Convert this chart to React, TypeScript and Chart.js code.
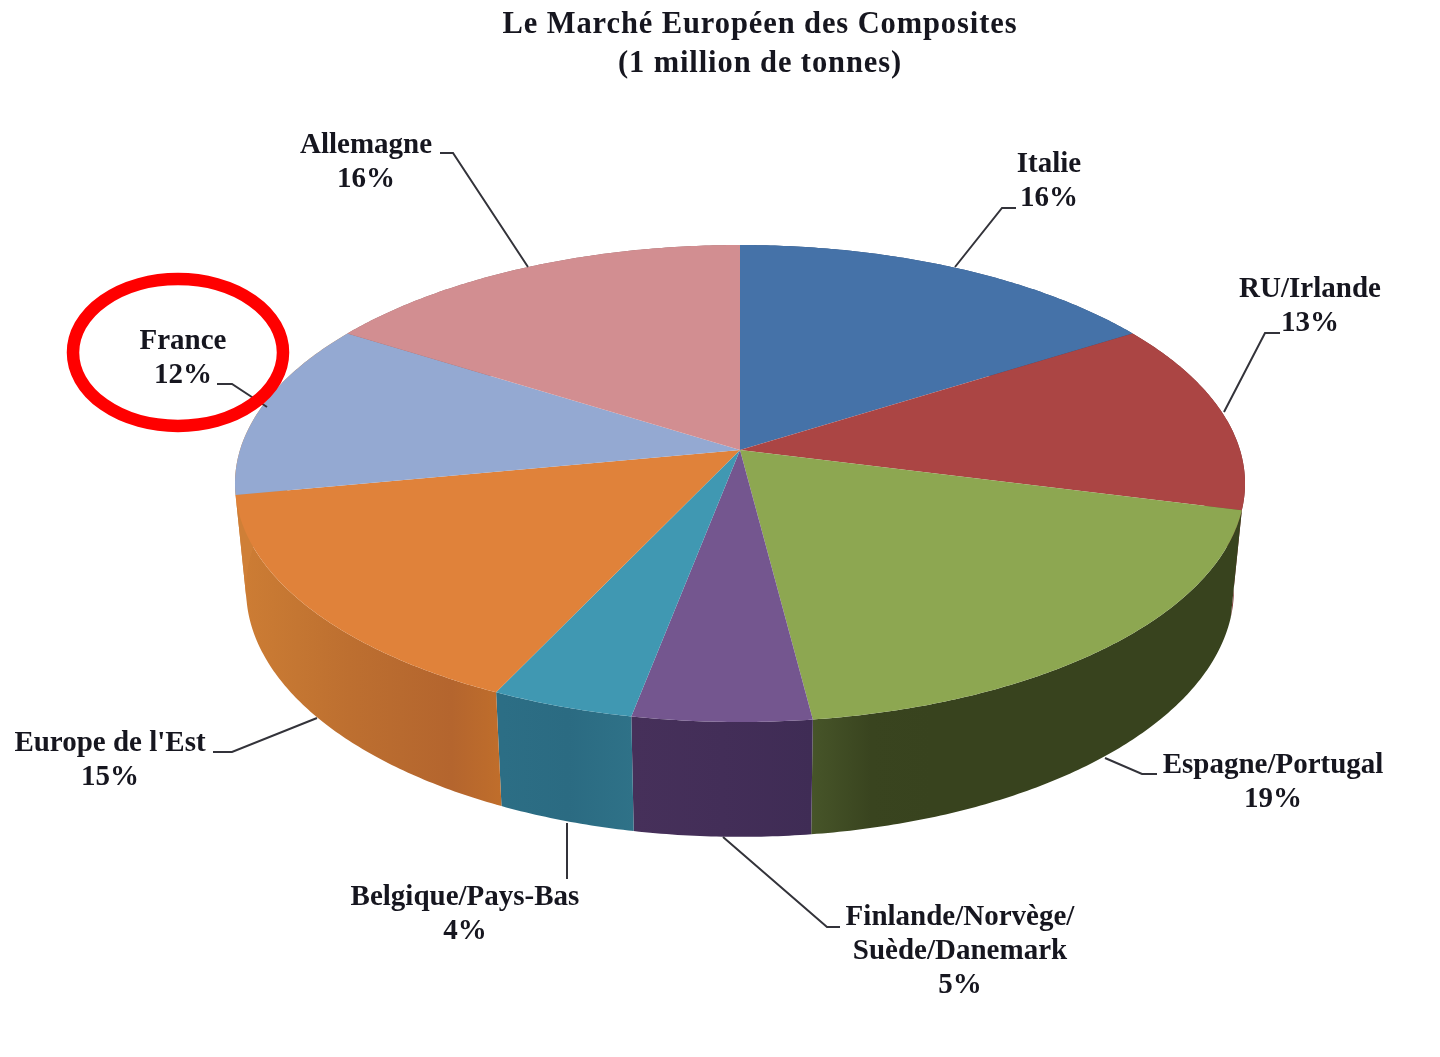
import React, { useEffect, useRef } from "react";
import { Chart, registerables } from "chart.js";

Chart.register(...registerables);

const titleLines = ["Le Marché Européen des Composites", "(1 million de tonnes)"];
const categories = [
  "Italie",
  "RU/Irlande",
  "Espagne/Portugal",
  "Finlande/Norvège/\nSuède/Danemark",
  "Belgique/Pays-Bas",
  "Europe de l'Est",
  "France",
  "Allemagne",
];
const shares = [16, 13, 19, 5, 4, 15, 12, 16];
const topColors = ["#4572A8", "#AB4544", "#8DA751", "#74568F", "#4098B2", "#E0823A", "#94A9D2", "#D28E91"];
// Wall shading, listed from the left edge of each slice to its right edge.
const wallColors = [
  ["#2F4F78", "#2F4F78"],
  ["#7A3230", "#7A3230"],
  ["#475529", "#39441F", "#38431E", "#38431E", "#38431E", "#38431E", "#38431E", "#38431E"],
  ["#46305A", "#432E58", "#3F2C55"],
  ["#2C6E85", "#2B6B82", "#2F7288"],
  ["#CC7C34", "#C47632", "#BD6F30", "#B86A2F", "#B4652E", "#C06E2B"],
  ["#CF7F37", "#CF7F37"],
  ["#96686A", "#96686A"],
];

// Page layout of the label blocks and their leader lines (reference pixels).
const labelCentres = [
  [1049, 165], [1310, 290], [1273, 766], [960, 918],
  [465, 898], [110, 744], [183, 342], [366, 146],
];
const leaders = [
  [[1016, 208], [1002, 208], [955, 267]],
  [[1280, 333], [1265, 333], [1224, 412]],
  [[1157, 774], [1142, 774], [1105, 758]],
  [[840, 927], [827, 927], [723, 837]],
  [[567, 879], [567, 823]],
  [[213, 752], [232, 752], [317, 718]],
  [[217, 384], [232, 384], [267, 407]],
  [[440, 153], [453, 153], [528, 267]],
];

// Perspective of the tilted disc.
const CX = 740;
const APEX_Y = 450;
const PERSP = 0.1405;
const SCALE_X = 500;
const SCALE_Y = 233.8;

const project = (angle: number) => {
  const x = Math.cos(angle);
  const y = -Math.sin(angle);
  const d = 1 + PERSP * y;
  return [CX + (SCALE_X * x) / d, APEX_Y - (SCALE_Y * y) / d];
};
const projectLower = (angle: number) => {
  const [X, Y] = project(angle);
  return [CX + (X - CX) * 0.978, Y + 106 + (Y - 483) * 0.037];
};

const FONT_FAMILY = '"Liberation Serif", serif';
const SOFT = "blur(0.7px)";
const TEXT_COLOR = "#16161f";

const piePlugin = {
  id: "tiltedPie",
  beforeDraw(chart: any) {
    const ctx = chart.ctx;
    ctx.save();
    ctx.fillStyle = "#ffffff";
    ctx.fillRect(0, 0, chart.width, chart.height);
    ctx.restore();
    ctx.filter = SOFT;
    ctx.letterSpacing = "0.9px";
  },
  beforeDatasetsDraw(chart: any) {
    const ctx = chart.ctx;
    ctx.letterSpacing = "0px";
    const arcs = chart.getDatasetMeta(0).data;
    ctx.save();
    arcs.forEach((arc: any, i: number) => {
      const steps = Math.max(8, Math.ceil((arc.endAngle - arc.startAngle) / 0.01));
      const at = (k: number) => arc.startAngle + ((arc.endAngle - arc.startAngle) * k) / steps;
      const xa = projectLower(at(0))[0];
      const xb = projectLower(at(steps))[0];
      const grad = ctx.createLinearGradient(Math.min(xa, xb), 0, Math.max(xa, xb) + 1, 0);
      const stops = wallColors[i];
      stops.forEach((c, s) => grad.addColorStop(s / (stops.length - 1), c));
      ctx.fillStyle = grad;
      ctx.beginPath();
      for (let k = 0; k <= steps; k++) {
        const [x, y] = project(at(k));
        if (k === 0) ctx.moveTo(x, y);
        else ctx.lineTo(x, y);
      }
      for (let k = steps; k >= 0; k--) {
        const [x, y] = projectLower(at(k));
        ctx.lineTo(x, y);
      }
      ctx.closePath();
      ctx.fill();
    });
    arcs.forEach((arc: any) => {
      const steps = Math.max(8, Math.ceil((arc.endAngle - arc.startAngle) / 0.01));
      ctx.fillStyle = arc.options.backgroundColor;
      ctx.beginPath();
      ctx.moveTo(CX, APEX_Y);
      for (let k = 0; k <= steps; k++) {
        const [x, y] = project(arc.startAngle + ((arc.endAngle - arc.startAngle) * k) / steps);
        ctx.lineTo(x, y);
      }
      ctx.closePath();
      ctx.fill();
    });
    ctx.restore();
    return false;
  },
  afterDraw(chart: any) {
    const ctx = chart.ctx;
    ctx.save();
    ctx.strokeStyle = "#33333a";
    ctx.lineWidth = 2;
    leaders.forEach((pts) => {
      ctx.beginPath();
      pts.forEach(([x, y], k) => (k === 0 ? ctx.moveTo(x, y) : ctx.lineTo(x, y)));
      ctx.stroke();
    });
    ctx.fillStyle = TEXT_COLOR;
    ctx.font = `bold 29px ${FONT_FAMILY}`;
    ctx.textAlign = "center";
    ctx.textBaseline = "middle";
    categories.forEach((name, i) => {
      const lines = [...name.split("\n"), `${shares[i]}%`];
      const [x, y] = labelCentres[i];
      lines.forEach((line, k) => ctx.fillText(line, x, y + k * 34));
    });
    ctx.filter = "none";
    ctx.strokeStyle = "#ff0000";
    ctx.lineWidth = 12.5;
    ctx.beginPath();
    ctx.ellipse(178, 352.5, 105, 73.5, 0, 0, Math.PI * 2);
    ctx.stroke();
    ctx.restore();
  },
};

export default function App() {
  const ref = useRef<HTMLCanvasElement | null>(null);
  useEffect(() => {
    document.body.style.margin = "0";
    document.body.style.background = "#ffffff";
    const chart = new Chart(ref.current as HTMLCanvasElement, {
      type: "pie",
      data: {
        labels: categories,
        datasets: [{ data: shares, backgroundColor: topColors, borderWidth: 0 }],
      },
      options: {
        responsive: false,
        animation: false,
        layout: { padding: { left: 80 } },
        plugins: {
          legend: { display: false },
          tooltip: { enabled: false },
          title: {
            display: true,
            text: titleLines,
            color: TEXT_COLOR,
            font: { family: FONT_FAMILY, size: 30.5, weight: "bold", lineHeight: 1.28 },
            padding: { top: 6, bottom: 10 },
          },
        },
      },
      plugins: [piePlugin],
    } as any);
    return () => chart.destroy();
  }, []);
  return (
    <div style={{ position: "absolute", left: 0, top: 0, width: 1440, height: 1057 }}>
      <canvas ref={ref} width={1440} height={1057} style={{ display: "block" }} />
    </div>
  );
}
